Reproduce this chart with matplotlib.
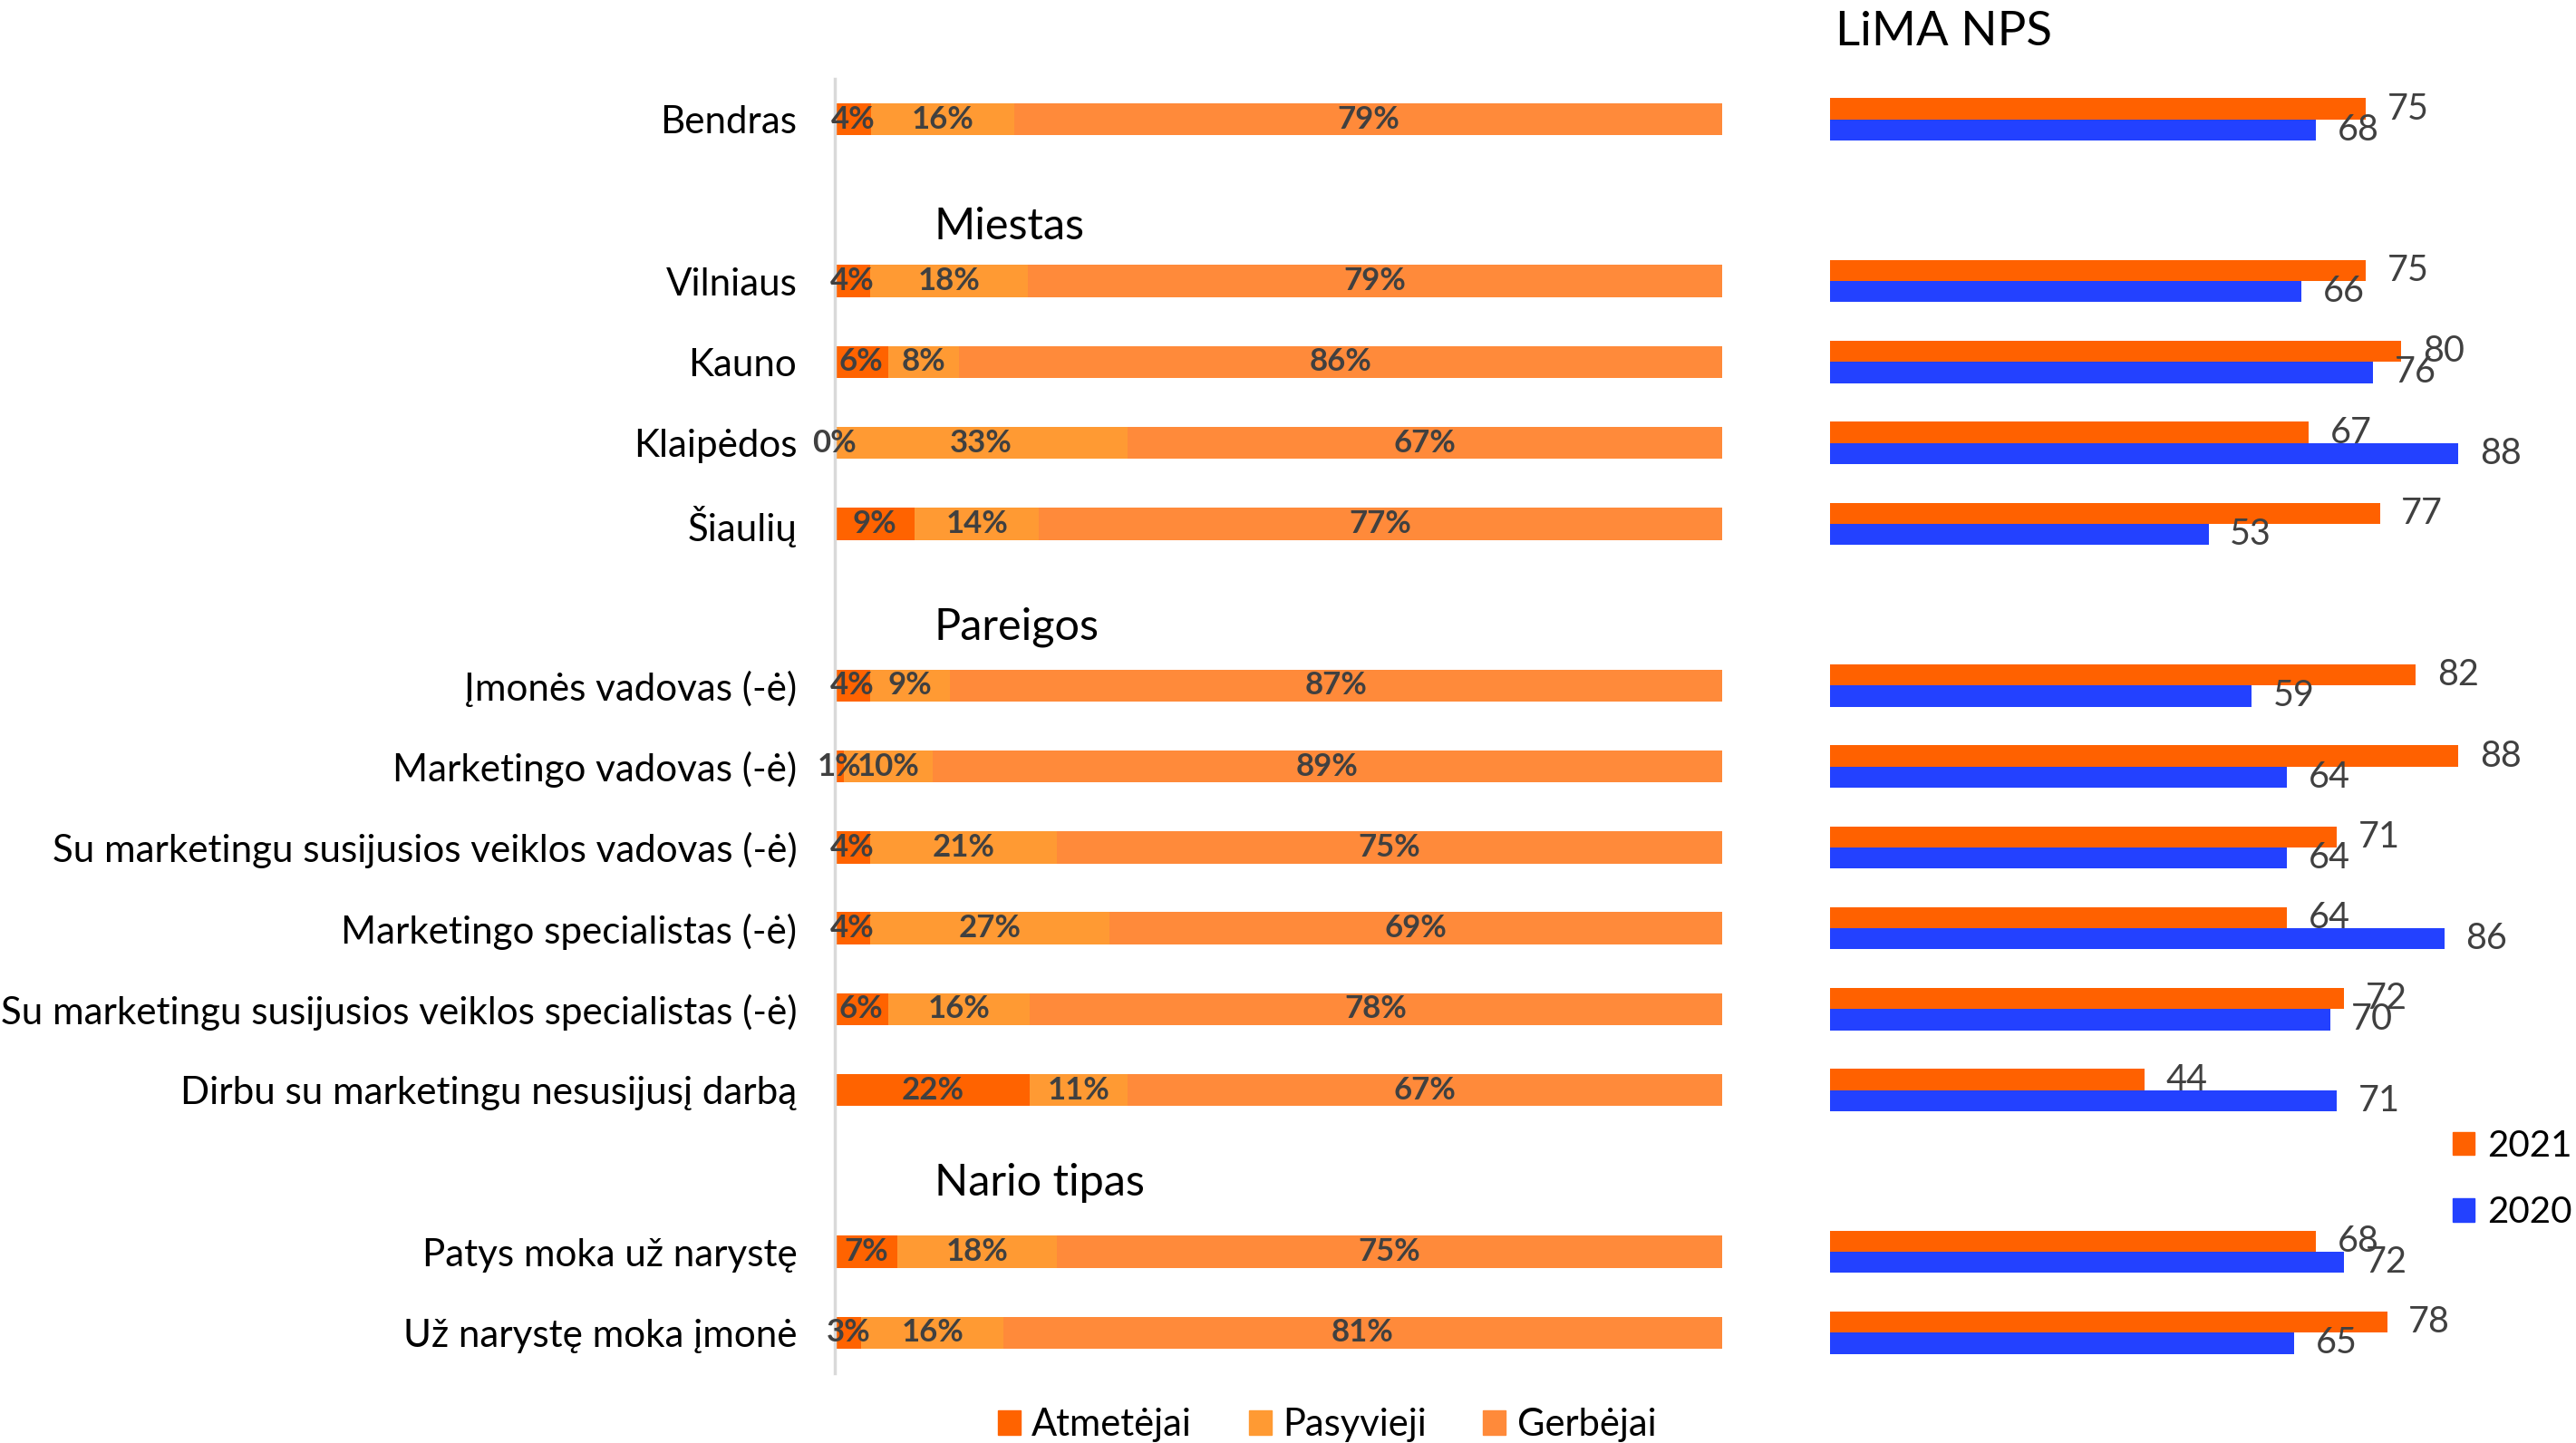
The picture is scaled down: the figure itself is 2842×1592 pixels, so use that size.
import matplotlib
matplotlib.use('Agg')
import matplotlib.pyplot as plt
from matplotlib.patches import Patch
import numpy as np

plt.rcParams['font.family'] = ['Lato', 'DejaVu Sans']

# ---------------- data ----------------
groups = ['', 'Miestas', 'Pareigos', 'Nario tipas']
group_rows = [
    ['Bendras'],
    ['Vilniaus', 'Kauno', 'Klaipėdos', 'Šiaulių'],
    ['Įmonės vadovas (-ė)', 'Marketingo vadovas (-ė)',
     'Su marketingu susijusios veiklos vadovas (-ė)',
     'Marketingo specialistas (-ė)',
     'Su marketingu susijusios veiklos specialistas (-ė)',
     'Dirbu su marketingu nesusijusį darbą'],
    ['Patys moka už narystę', 'Už narystę moka įmonė'],
]

segments = ['Atmetėjai', 'Pasyvieji', 'Gerbėjai']
atmetejai = [4, 4, 6, 0, 9, 4, 1, 4, 4, 6, 22, 7, 3]
pasyvieji = [16, 18, 8, 33, 14, 9, 10, 21, 27, 16, 11, 18, 16]
gerbejai = [79, 79, 86, 67, 77, 87, 89, 75, 69, 78, 67, 75, 81]

years = ['2021', '2020']
nps_2021 = [75, 75, 80, 67, 77, 82, 88, 71, 64, 72, 44, 68, 78]
nps_2020 = [68, 66, 76, 88, 53, 59, 64, 64, 86, 70, 71, 72, 65]

# ---------------- style ----------------
seg_colors = ['#FF6300', '#FF9A33', '#FF8A3A']
year_colors = ['#FF6100', '#2341FF']
label_gray = '#404040'

W, H = 2842, 1592
fig = plt.figure(figsize=(W / 100, H / 100), dpi=100)
top_px, bot_px = 87, 1515
ax = fig.add_axes([921 / W, 1 - bot_px / H, 979 / W, (bot_px - top_px) / H])
ax2 = fig.add_axes([2019 / W, 1 - bot_px / H, 788 / W, (bot_px - top_px) / H])

# slot positions: each group header (except first) occupies one slot
ypos, labels = [], []
slot = 0
for gi, (g, rows) in enumerate(zip(groups, group_rows)):
    if gi > 0:
        slot += 1
    for r in rows:
        ypos.append(slot)
        labels.append(r)
        slot += 1
ypos = np.array(ypos, float)
nslots = slot

vals = np.array([atmetejai, pasyvieji, gerbejai], float)
shares = vals / vals.sum(axis=0)

left = np.zeros(len(ypos))
for i in range(3):
    bars = ax.barh(ypos, shares[i], left=left, height=0.4, color=seg_colors[i],
                   label=segments[i])
    ax.bar_label(bars, labels=[f'{int(v)}%' for v in vals[i]], label_type='center',
                 fontsize=25, fontweight='bold', color=label_gray)
    left += shares[i]

ax.set_xlim(0, 1)
ax.set_ylim(nslots - 0.5, -0.5)
ax.set_xticks([])
ax.set_yticks(ypos)
ax.set_yticklabels(labels)
ax.tick_params(axis='y', length=0, pad=30, labelsize=30.3, labelcolor='black')
for s in ['top', 'right', 'bottom']:
    ax.spines[s].set_visible(False)
ax.spines['left'].set_color('#D9D9D9')
ax.spines['left'].set_linewidth(2.5)

header_y = [1.33, 6.28, 13.15]
for g, y in zip(groups[1:], header_y):
    ax.text(0.112, y, g, transform=ax.get_yaxis_transform(), fontsize=35,
            va='center', ha='left', color='black')

# right chart
h = 0.26
b1 = ax2.barh(ypos - h / 2, nps_2021, height=h, color=year_colors[0], label=years[0])
b2 = ax2.barh(ypos + h / 2, nps_2020, height=h, color=year_colors[1], label=years[1])
ax2.bar_label(b1, padding=17, fontsize=28.5, color=label_gray)
ax2.bar_label(b2, padding=17, fontsize=28.5, color=label_gray)
ax2.set_xlim(0, 100)
ax2.set_ylim(nslots - 0.5, -0.5)
ax2.axis('off')

fig.text(2025 / W, 1 - 35 / H, 'LiMA NPS', fontsize=38, ha='left', va='center')

# legends
h_seg = [Patch(color=c, label=l) for c, l in zip(seg_colors, segments)]
fig.legend(handles=h_seg, loc='center', bbox_to_anchor=(1464 / W, 1 - 1572 / H), ncol=3,
           frameon=False, fontsize=30, handlelength=0.6, handleheight=0.6,
           handletextpad=0.3, columnspacing=1.5, borderpad=0)
h_year = [Patch(color=c, label=l) for c, l in zip(year_colors, years)]
fig.legend(handles=h_year, loc='center left', bbox_to_anchor=(2706 / W, 1 - 1301 / H),
           frameon=False, fontsize=29, handlelength=0.6, handleheight=0.6,
           handletextpad=0.35, labelspacing=0.9, borderpad=0, borderaxespad=0)

fig.savefig('out.png', dpi=100)
